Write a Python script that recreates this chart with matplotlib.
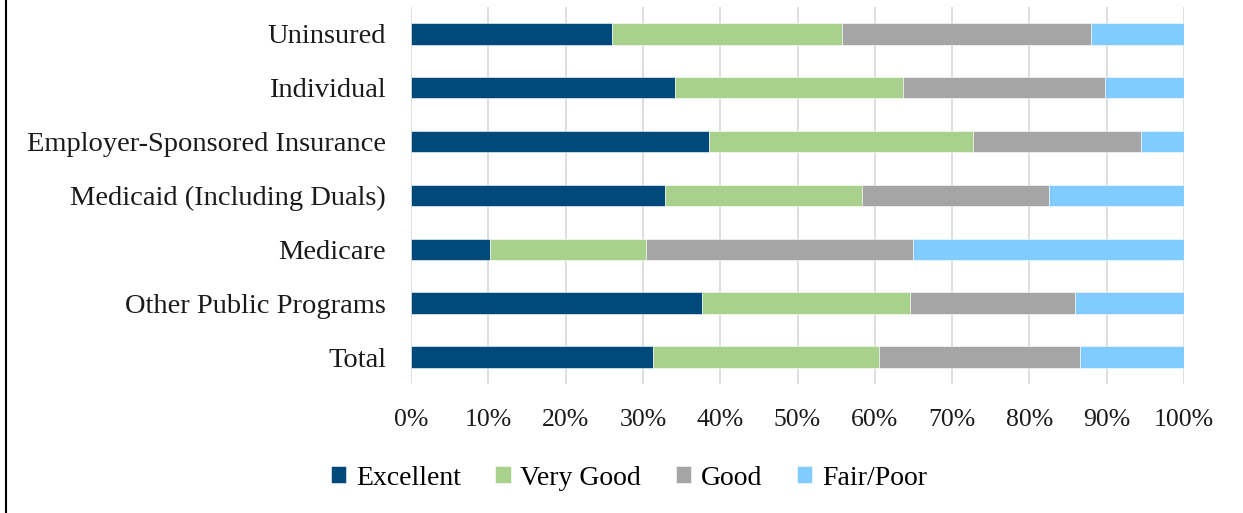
import matplotlib.pyplot as plt
import numpy as np

categories = [
    "Uninsured",
    "Individual",
    "Employer-Sponsored Insurance",
    "Medicaid (Including Duals)",
    "Medicare",
    "Other Public Programs",
    "Total",
]
excellent = [26.0, 34.1, 38.6, 32.8, 10.2, 37.6, 31.3]
very_good = [29.8, 29.5, 34.1, 25.6, 20.2, 27.0, 29.3]
good = [32.2, 26.2, 21.7, 24.1, 34.5, 21.3, 25.9]
fair_poor = [12.0, 10.2, 5.6, 17.5, 35.1, 14.1, 13.5]

series = [
    ("Excellent", excellent, "#00497A"),
    ("Very Good", very_good, "#A9D18E"),
    ("Good", good, "#A5A5A5"),
    ("Fair/Poor", fair_poor, "#80CBFF"),
]

plt.rcParams["font.family"] = ["Liberation Serif", "DejaVu Serif"]

fig = plt.figure(figsize=(12.43, 5.13), dpi=100)
ax = fig.add_axes([0.3307, 0.2515, 0.6218, 0.735])

y = np.arange(len(categories))
left = np.zeros(len(categories))
for name, vals, color in series:
    vals = np.array(vals)
    ax.barh(y, vals, left=left, height=0.4, color=color, label=name,
            edgecolor="white", linewidth=0.4, zorder=3)
    left += vals

ax.set_xlim(0, 100)
ax.set_ylim(len(categories) - 0.5, -0.5)
ax.set_yticks(y)
ax.set_yticklabels(categories, fontsize=20.5, color="#1a1a1a")
ax.set_xticks(np.arange(0, 101, 10))
ax.set_xticklabels([f"{v}%" for v in range(0, 101, 10)], fontsize=18.5, color="#1a1a1a")
ax.tick_params(axis="y", length=0, pad=18)
ax.tick_params(axis="x", length=0, pad=18)
ax.grid(axis="x", color="#D9D9D9", linewidth=1.2, zorder=0)
for s in ax.spines.values():
    s.set_visible(False)

ax.legend(loc="center", bbox_to_anchor=(0.506, 0.068), bbox_transform=fig.transFigure,
          ncol=4, frameon=False, fontsize=20, handlelength=0.55, handleheight=0.55,
          handletextpad=0.35, columnspacing=1.25)

fig.add_artist(plt.Line2D([0.005, 0.005], [0, 1], transform=fig.transFigure,
                          color="black", linewidth=1.5))

fig.savefig("out.png", dpi=100)
